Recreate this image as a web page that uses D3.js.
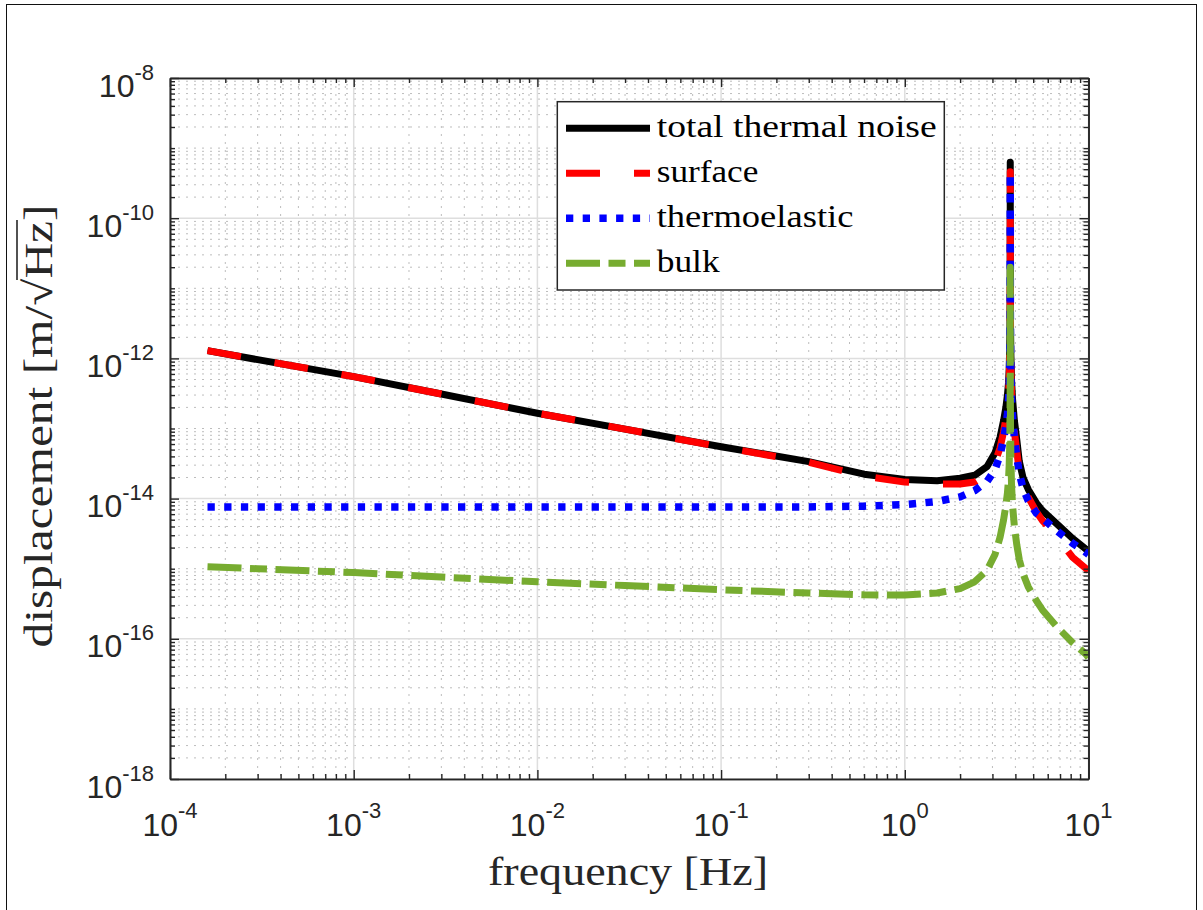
<!DOCTYPE html>
<html><head><meta charset="utf-8">
<script src="https://cdn.jsdelivr.net/npm/d3@7"></script>
<style>html,body{margin:0;padding:0;background:#fff;} svg{display:block}</style>
</head><body><svg id="c" width="1203" height="910"></svg>
<script>
// ---------- data ----------
const freq = [1.6e-4, 3e-4, 1e-3, 3e-3, 1e-2, 3e-2, 0.1, 0.3, 0.6, 1.0, 1.5, 2.0, 2.4, 2.8, 3.1, 3.3, 3.45, 3.55, 3.62, 3.67, 3.70, 3.72, 3.735, 3.745, 3.75, 3.755, 3.765, 3.78, 3.81, 3.86, 3.95, 4.07, 4.2, 4.4, 4.7, 5.2, 5.6, 6.7, 8.2, 9.7, 10];
const totalNoise = [1.29e-12, 9.6e-13, 5.5e-13, 3.1e-13, 1.65e-13, 9.8e-14, 5.5e-14, 3.37e-14, 2.23e-14, 1.88e-14, 1.8e-14, 1.95e-14, 2.15e-14, 2.85e-14, 4.5e-14, 7.5e-14, 1.3e-13, 2.0e-13, 3.0e-13, 4.5e-13, 7e-13, 1.2e-12, 2.4e-12, 8e-12, 6.3e-10, 8e-12, 2.5e-12, 1.1e-12, 5e-13, 2.6e-13, 1.3e-13, 6.9e-14, 3.4e-14, 2.0e-14, 1.35e-14, 8.7e-15, 6.8e-15, 4.4e-15, 2.7e-15, 1.9e-15, 1.8e-15];
const surfaceNoise = [1.29e-12, 9.6e-13, 5.5e-13, 3.1e-13, 1.65e-13, 9.8e-14, 5.45e-14, 3.3e-14, 2.1e-14, 1.72e-14, 1.62e-14, 1.62e-14, 1.72e-14, 2.2e-14, 3.3e-14, 5.3e-14, 9e-14, 1.4e-13, 2.1e-13, 3.2e-13, 5e-13, 8.5e-13, 1.7e-12, 5.5e-12, 4.6e-10, 5.5e-12, 1.7e-12, 7.5e-13, 3.4e-13, 1.8e-13, 9e-14, 4.8e-14, 2.4e-14, 1.45e-14, 1.05e-14, 6.5e-15, 4.9e-15, 2.9e-15, 1.45e-15, 1.0e-15, 9.3e-16];
const thermoelasticNoise = [7.6e-15, 7.6e-15, 7.6e-15, 7.6e-15, 7.6e-15, 7.6e-15, 7.6e-15, 7.6e-15, 7.8e-15, 8.2e-15, 9.1e-15, 1.06e-14, 1.3e-14, 1.75e-14, 2.6e-14, 4.2e-14, 7e-14, 1.1e-13, 1.6e-13, 2.5e-13, 3.9e-13, 6.6e-13, 1.35e-12, 4.5e-12, 4.4e-10, 4.5e-12, 1.4e-12, 6.2e-13, 2.8e-13, 1.5e-13, 7.5e-14, 4e-14, 2.3e-14, 1.4e-14, 9.3e-15, 6.2e-15, 5.3e-15, 3.5e-15, 2.3e-15, 1.7e-15, 1.6e-15];
const bulkNoise = [1.07e-15, 1.0e-15, 8.8e-16, 7.6e-16, 6.5e-16, 5.75e-16, 5.0e-16, 4.5e-16, 4.25e-16, 4.2e-16, 4.5e-16, 5.2e-16, 6.5e-16, 9.5e-16, 1.6e-15, 2.8e-15, 5e-15, 8e-15, 1.2e-14, 1.9e-14, 3e-14, 5e-14, 1e-13, 3e-13, 2e-11, 3e-13, 9e-14, 3.8e-14, 1.6e-14, 8e-15, 4e-15, 2.2e-15, 1.35e-15, 8.5e-16, 5.5e-16, 3.5e-16, 2.6e-16, 1.5e-16, 8.8e-17, 6e-17, 5.4e-17];
const seriesNames = ["total thermal noise", "surface", "thermoelastic", "bulk"];
const xTickExps = [-4, -3, -2, -1, 0, 1];
const yTickExps = [-18, -16, -14, -12, -10, -8];
const xLabel = "frequency [Hz]";
const yLabel = "displacement [m/\u221AHz]";

// ---------- layout ----------
const W = 1203, H = 910;
const m = {l: 170, r: 1088.5, t: 78, b: 779};
const AX = "#262626";
const svg = d3.select("#c");
svg.append("rect").attr("width", W).attr("height", H).attr("fill", "#fff");
svg.append("rect").attr("x", 6.5).attr("y", 4.5).attr("width", 1190).attr("height", 1000)
  .attr("fill", "none").attr("stroke", "#111").attr("stroke-width", 1);

const x = d3.scaleLog().domain([1e-4, 10]).range([m.l, m.r]);
const y = d3.scaleLog().domain([1e-18, 1e-8]).range([m.b, m.t]);

const xMajor = xTickExps.map(e => Math.pow(10, e));
const yMajor = yTickExps.map(e => Math.pow(10, e));
const xMinor = [];
for (let e = xTickExps[0]; e < xTickExps[xTickExps.length - 1]; e++)
  for (let k = 2; k <= 9; k++) xMinor.push(k * Math.pow(10, e));
const yMinor = [];
for (let e = yTickExps[0]; e < yTickExps[yTickExps.length - 1]; e++)
  for (let k = 1; k <= 9; k++) { if (k === 1 && yTickExps.includes(e)) continue; yMinor.push(k * Math.pow(10, e)); }

// ---------- grid ----------
const grid = svg.append("g");
grid.selectAll(".gxm").data(xMinor).join("line")
  .attr("x1", d => x(d)).attr("x2", d => x(d)).attr("y1", m.t).attr("y2", m.b)
  .attr("stroke", "#bdbdbd").attr("stroke-width", 1).attr("stroke-dasharray", "2,6");
grid.selectAll(".gym").data(yMinor).join("line")
  .attr("y1", d => y(d)).attr("y2", d => y(d)).attr("x1", m.l).attr("x2", m.r)
  .attr("stroke", "#bdbdbd").attr("stroke-width", 1).attr("stroke-dasharray", "2,6");
grid.selectAll(".gxM").data(xMajor).join("line")
  .attr("x1", d => x(d)).attr("x2", d => x(d)).attr("y1", m.t).attr("y2", m.b)
  .attr("stroke", "#dedede").attr("stroke-width", 1.5);
grid.selectAll(".gyM").data(yMajor).join("line")
  .attr("y1", d => y(d)).attr("y2", d => y(d)).attr("x1", m.l).attr("x2", m.r)
  .attr("stroke", "#dedede").attr("stroke-width", 1.5);

// ---------- data lines ----------
svg.append("clipPath").attr("id", "pc").append("rect")
  .attr("x", m.l).attr("y", m.t - 10).attr("width", m.r - m.l).attr("height", m.b - m.t + 10);
const series = [
  {name: seriesNames[0], vals: totalNoise, color: "#000000", dash: null, w: 7},
  {name: seriesNames[1], vals: surfaceNoise, color: "#ff0000", dash: "34,34", w: 7},
  {name: seriesNames[2], vals: thermoelasticNoise, color: "#0000ff", dash: "7.3,9.4", w: 7.5},
  {name: seriesNames[3], vals: bulkNoise, color: "#77ac30", dash: "34,8.5,17,8.5", w: 7}
];
const line = d3.line().x(d => x(d[0])).y(d => y(d[1]));
const lg = svg.append("g").attr("clip-path", "url(#pc)");
series.forEach(s => {
  lg.append("path").datum(freq.map((f, i) => [f, s.vals[i]]))
    .attr("d", line).attr("fill", "none").attr("stroke", s.color)
    .attr("stroke-width", s.w).attr("stroke-linejoin", "round").attr("stroke-linecap", "butt")
    .attr("stroke-dasharray", s.dash);
});

// ---------- axes (box, inward ticks) ----------
function style(g) {
  g.select(".domain").attr("stroke", AX).attr("stroke-width", 1.6);
  g.selectAll(".tick line").attr("stroke", AX).attr("stroke-width", 1.4);
  g.selectAll("text").remove();
}
const axes = svg.append("g");
[[xMajor, 9], [xMinor, 5]].forEach(([vals, len]) => {
  axes.append("g").attr("transform", `translate(0,${m.b})`)
    .call(d3.axisBottom(x).tickValues(vals).tickSize(-len).tickSizeOuter(0).tickFormat("")).call(style);
  axes.append("g").attr("transform", `translate(0,${m.t})`)
    .call(d3.axisTop(x).tickValues(vals).tickSize(-len).tickSizeOuter(0).tickFormat("")).call(style);
});
[[yMajor, 9], [yMinor, 5]].forEach(([vals, len]) => {
  axes.append("g").attr("transform", `translate(${m.l},0)`)
    .call(d3.axisLeft(y).tickValues(vals).tickSize(-len).tickSizeOuter(0).tickFormat("")).call(style);
  axes.append("g").attr("transform", `translate(${m.r},0)`)
    .call(d3.axisRight(y).tickValues(vals).tickSize(-len).tickSizeOuter(0).tickFormat("")).call(style);
});

// ---------- tick labels ----------
const tl = svg.append("g").attr("font-family", "Liberation Sans, Arial, sans-serif").attr("fill", AX);
xTickExps.forEach((e, i) => {
  const t = tl.append("text").attr("x", x(xMajor[i])).attr("y", 836).attr("text-anchor", "middle");
  t.append("tspan").attr("font-size", 32).text("10");
  t.append("tspan").attr("font-size", 22).attr("dy", -18).text(String(e));
});
yTickExps.forEach((e, i) => {
  const t = tl.append("text").attr("x", 154).attr("y", y(yMajor[i]) + 18.5).attr("text-anchor", "end");
  t.append("tspan").attr("font-size", 32).text("10");
  t.append("tspan").attr("font-size", 22).attr("dy", -17).text(String(e));
});

// ---------- axis titles ----------
const serif = "Liberation Serif, Times New Roman, serif";
svg.append("text").attr("x", 628).attr("y", 885).attr("text-anchor", "middle")
  .attr("font-family", serif).attr("font-size", 40).attr("fill", AX)
  .attr("textLength", 280).attr("lengthAdjust", "spacingAndGlyphs").text(xLabel);

const yg = svg.append("g").attr("transform", "translate(52,426) rotate(-90)");
const yt = yg.append("text").attr("x", 0).attr("y", 0).attr("text-anchor", "middle")
  .attr("font-family", serif).attr("font-size", 40).attr("fill", AX)
  .attr("textLength", 443).attr("lengthAdjust", "spacingAndGlyphs").text(yLabel);
{
  const node = yt.node();
  const n = yLabel.indexOf("\u221A");
  const ext = node.getExtentOfChar(n);
  const endZ = node.getEndPositionOfChar(n + 2);
  yg.append("line").attr("x1", ext.x + ext.width - 1.5).attr("x2", endZ.x + 1)
    .attr("y1", ext.y + 1).attr("y2", ext.y + 1)
    .attr("stroke", AX).attr("stroke-width", 1.6);
}

// ---------- legend ----------
const leg = svg.append("g");
leg.append("rect").attr("x", 557.3).attr("y", 101.7).attr("width", 387).attr("height", 188.3)
  .attr("fill", "#fff").attr("stroke", AX).attr("stroke-width", 1.5);
const legWidths = [280, 101.7, 196.7, 63];
series.forEach((s, i) => {
  const ly = 128.3 + i * 45;
  leg.append("line").attr("x1", 566).attr("x2", 650).attr("y1", ly).attr("y2", ly)
    .attr("stroke", s.color).attr("stroke-width", s.w).attr("stroke-dasharray", s.dash);
  leg.append("text").attr("x", 656.7).attr("y", ly + 8.2)
    .attr("font-family", serif).attr("font-size", 31).attr("fill", "#000")
    .attr("textLength", legWidths[i]).attr("lengthAdjust", "spacingAndGlyphs").text(s.name);
});
</script></body></html>
